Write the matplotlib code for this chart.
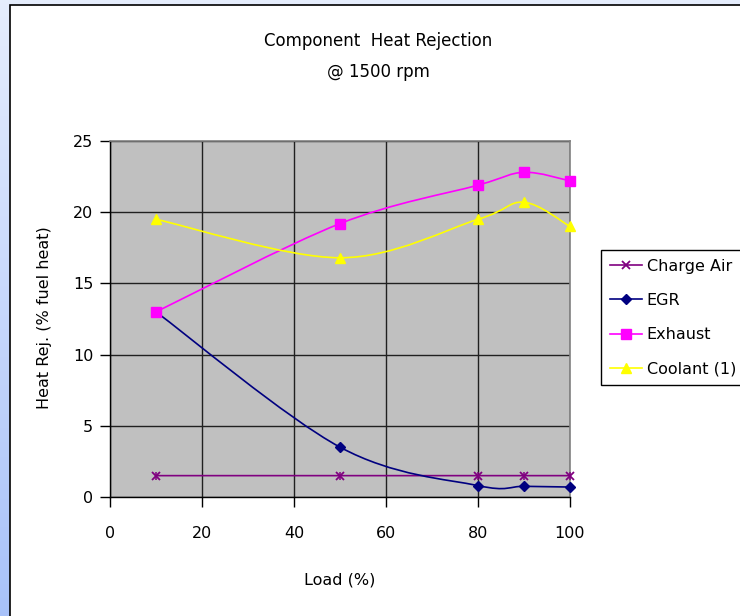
import numpy as np
import matplotlib
matplotlib.use("Agg")
import matplotlib.pyplot as plt
from matplotlib.path import Path
from matplotlib.patches import PathPatch, Rectangle
from matplotlib.lines import Line2D

plt.rcParams['font.family'] = ['DejaVu Sans']

load = [10, 50, 80, 90, 100]
charge_air = [1.5, 1.5, 1.5, 1.5, 1.5]
egr = [13.0, 3.5, 0.8, 0.75, 0.7]
exhaust = [13.0, 19.2, 21.9, 22.8, 22.2]
coolant = [19.5, 16.8, 19.5, 20.7, 19.0]
x_ticks = [0, 20, 40, 60, 80, 100]
y_ticks = [0, 5, 10, 15, 20, 25]

series = [
    ("Charge Air", charge_air, "#800080", "x"),
    ("EGR", egr, "#000080", "D"),
    ("Exhaust", exhaust, "#FF00FF", "s"),
    ("Coolant (1)", coolant, "#FFFF00", "^"),
]

W, H = 740, 616
fig = plt.figure(figsize=(W / 100, H / 100), dpi=100)

# background: light blue frame with gradient on the left
bg = fig.add_axes([0, 0, 1, 1])
bg.set_axis_off()
grad = np.linspace(0, 1, 256).reshape(-1, 1)
top = np.array([0.90, 0.93, 0.99])
bot = np.array([0.66, 0.76, 0.98])
img = top[None, None, :] * (1 - grad[:, :, None]) + bot[None, None, :] * grad[:, :, None]
bg.imshow(img, aspect='auto', extent=[0, 1, 0, 1], origin='upper')
bg.set_xlim(0, 1)
bg.set_ylim(0, 1)
bg.add_patch(Rectangle((9.5 / W, -0.01), 1.0, (H - 5.5) / H + 0.01,
                       facecolor='white', edgecolor='black', linewidth=1.2,
                       transform=bg.transAxes))


def smooth_path(xs, ys):
    pts = np.column_stack([xs, ys]).astype(float)
    n = len(pts)
    verts = [pts[0]]
    codes = [Path.MOVETO]
    for i in range(n - 1):
        p0 = pts[i - 1] if i > 0 else pts[i]
        p1 = pts[i]
        p2 = pts[i + 1]
        p3 = pts[i + 2] if i + 2 < n else pts[i + 1]
        c1 = p1 + (p2 - p0) / 6.0
        c2 = p2 - (p3 - p1) / 6.0
        verts += [c1, c2, p2]
        codes += [Path.CURVE4] * 3
    return Path(verts, codes)


ax = fig.add_axes([110 / W, (H - 497) / H, 460 / W, 356 / H])
ax.set_facecolor('#C0C0C0')
ax.set_xlim(0, 100)
ax.set_ylim(0, 25)
ax.set_xticks(x_ticks)
ax.set_yticks(y_ticks)
ax.grid(True, color='#202020', linewidth=1.0)
ax.set_axisbelow(True)
for s in ['top', 'right']:
    ax.spines[s].set_color('#808080')
    ax.spines[s].set_linewidth(1.2)
for s in ['left', 'bottom']:
    ax.spines[s].set_color('black')
    ax.spines[s].set_linewidth(1.0)
ax.tick_params(direction='out', length=7, width=1, labelsize=11.5, pad=14, colors='black')
ax.tick_params(axis='y', pad=5)

handles = []
for name, vals, col, mk in series:
    ax.add_patch(PathPatch(smooth_path(load, vals), facecolor='none', edgecolor=col,
                           linewidth=1.2, zorder=3, clip_on=False))
    ms = {'x': 5.5, 'D': 5.5, 's': 6.5, '^': 6.5}[mk]
    mew = 1.3 if mk == 'x' else 1.0
    ax.plot(load, vals, linestyle='none', marker=mk, color=col, markersize=ms,
            markeredgewidth=mew, zorder=4, clip_on=False)
    if mk == 'x':
        ax.plot(load, vals, linestyle='none', marker='|', color=col, markersize=ms,
                markeredgewidth=1.1, zorder=4, clip_on=False)
    handles.append(Line2D([], [], color=col, marker=mk, markersize=ms, linewidth=1.2,
                          markeredgewidth=mew))

fig.text(340 / W, 1 - 580 / H, "Load (%)", ha='center', va='center', fontsize=11.5)
fig.text(45 / W, 1 - 318 / H, "Heat Rej. (% fuel heat)", ha='center', va='center',
         rotation=90, fontsize=11.5)

fig.text(378 / W, 1 - 41 / H, "Component  Heat Rejection", ha='center', va='center', fontsize=12)
fig.text(378 / W, 1 - 72 / H, "@ 1500 rpm", ha='center', va='center', fontsize=12)

leg = fig.legend(handles, [s[0] for s in series], loc='upper left',
                 bbox_to_anchor=(601 / W, 1 - 250 / H), bbox_transform=fig.transFigure,
                 fontsize=11.5, frameon=True, fancybox=False, edgecolor='black',
                 framealpha=1, borderpad=0.55, labelspacing=1.2, handlelength=2.0,
                 handletextpad=0.3, borderaxespad=0)
leg.get_frame().set_linewidth(1.0)

fig.savefig("out.png", dpi=100)
